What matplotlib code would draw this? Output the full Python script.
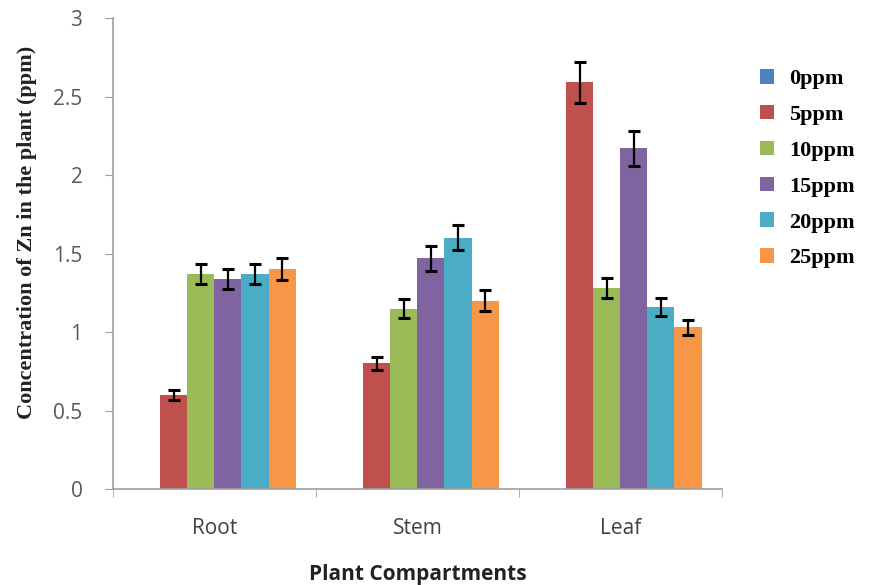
import matplotlib
matplotlib.use("Agg")
import matplotlib.pyplot as plt
import numpy as np

categories = ["Root", "Stem", "Leaf"]
series = ["0ppm", "5ppm", "10ppm", "15ppm", "20ppm", "25ppm"]
vals_0 = [0.0, 0.0, 0.0]
vals_5 = [0.60, 0.80, 2.59]
vals_10 = [1.37, 1.15, 1.28]
vals_15 = [1.34, 1.47, 2.17]
vals_20 = [1.37, 1.60, 1.16]
vals_25 = [1.40, 1.20, 1.03]
err_0 = [0.0, 0.0, 0.0]
err_5 = [0.03, 0.04, 0.13]
err_10 = [0.065, 0.06, 0.065]
err_15 = [0.065, 0.08, 0.11]
err_20 = [0.065, 0.08, 0.06]
err_25 = [0.07, 0.065, 0.05]
yticks = [0, 0.5, 1, 1.5, 2, 2.5, 3]
ytick_labels = ["0", "0.5", "1", "1.5", "2", "2.5", "3"]

values = [vals_0, vals_5, vals_10, vals_15, vals_20, vals_25]
errors = [err_0, err_5, err_10, err_15, err_20, err_25]
colors = ["#4F81BD", "#C0504D", "#9BBB59", "#8064A2", "#4BACC6", "#F79646"]

fig = plt.figure(figsize=(8.71, 5.85), dpi=100)
ax = fig.add_axes([0.1297, 0.164, 0.699, 0.805])

x = np.arange(len(categories))
n = len(series)
w = 0.8 / n
for i, (s, v, e, c) in enumerate(zip(series, values, errors, colors)):
    pos = x - 0.4 + w * (i + 0.5)
    ax.bar(pos, v, width=w, color=c, label=s, zorder=2)
    if i > 0:
        ax.errorbar(pos, v, yerr=e, fmt="none", ecolor="black", elinewidth=1.6,
                    capsize=4.5, capthick=2.2, zorder=3)

ax.set_xlim(-0.5, 2.5)
ax.set_ylim(0, 3)
ax.set_yticks(yticks)
ax.set_yticklabels(ytick_labels, family="Open Sans", fontsize=15, color="#595959")
ax.set_xticks(x)
ax.set_xticklabels(categories, family="Open Sans", fontsize=15, color="#404040")
ax.tick_params(axis="x", length=0, pad=21)
ax.set_xticks([-0.5, 0.5, 1.5, 2.5], minor=True)
ax.tick_params(axis="x", which="minor", length=6, color="#A0A0A0", direction="out")
ax.tick_params(axis="y", length=6, color="#A0A0A0", direction="out", pad=16)

for sp in ["top", "right"]:
    ax.spines[sp].set_visible(False)
for sp in ["left", "bottom"]:
    ax.spines[sp].set_color("#A0A0A0")
    ax.spines[sp].set_linewidth(1.2)

ax.set_xlabel("Plant Compartments", family="Open Sans", fontweight="bold", fontsize=15,
              color="#222222")
ax.xaxis.set_label_coords(0.5, -0.159)
ax.set_ylabel("Concentration of Zn in the plant (ppm)", family="Liberation Serif",
              fontweight="bold", fontsize=16, color="#222222")
ax.yaxis.set_label_coords(-0.125, 0.546)

leg = ax.legend(loc="upper left", bbox_to_anchor=(760 / 871, 1 - 69 / 585),
                bbox_transform=fig.transFigure, frameon=False, borderaxespad=0, borderpad=0,
                prop={"family": "Liberation Serif", "weight": "bold", "size": 16},
                handlelength=0.63, handleheight=0.63, labelspacing=0.71, handletextpad=0.68)

fig.savefig("out.png", dpi=100)
